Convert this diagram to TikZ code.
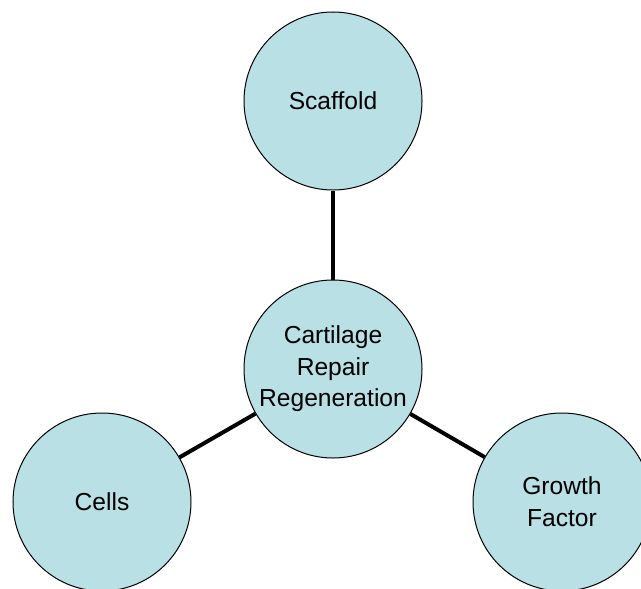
\documentclass[tikz,border=0pt]{standalone}
\usepackage{fontspec}
\setmainfont{Liberation Sans}
\definecolor{topicfill}{RGB}{185,224,228}
\begin{document}
\begin{tikzpicture}[
    x=0.03cm, y=-0.03cm,
    topic/.style={circle, draw=black, fill=topicfill, line width=0.85pt,
        minimum size=5.34cm, inner sep=0pt, align=center,
        font=\fontsize{21}{27}\selectfont},
    link/.style={line width=3.4pt}
]
    \clip (0,0) rectangle (641,589);

    % Centre
    \node[topic] (repair) at (333,369) {Cartilage\\Repair\\Regeneration};

    % Outer circles
    \node[topic] (scaffold) at (333,101) {Scaffold};
    \node[topic] (cells) at (102,502) {Cells};
    \node[topic] (growth) at (562,502) {Growth\\Factor};

    % Links
    \draw[link] (repair) -- (scaffold);
    \draw[link] (repair) -- (cells);
    \draw[link] (repair) -- (growth);
\end{tikzpicture}
\end{document}
